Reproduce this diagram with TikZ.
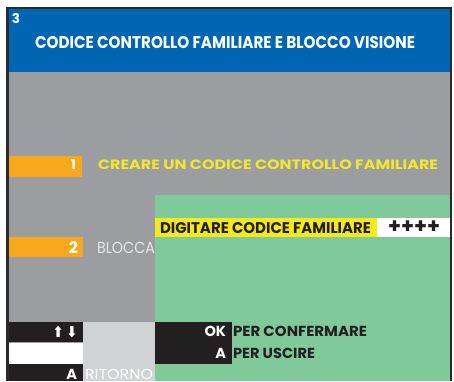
\documentclass[tikz,border=0pt]{standalone}
\usepackage{fontspec}
\usepackage{graphicx}
\setmainfont{Poppins}
\newfontfamily\symfont{DejaVu Sans}
\definecolor{framec}{HTML}{2B2A2C}
\definecolor{hdrblue}{HTML}{0066B3}
\definecolor{scrgrey}{HTML}{9C9DA1}
\definecolor{orangec}{HTML}{F8A81C}
\definecolor{greenc}{HTML}{7FC99B}
\definecolor{yellowbar}{HTML}{F4E91A}
\definecolor{yellowtxt}{HTML}{F3E72B}
\definecolor{darkc}{HTML}{231F20}
\definecolor{lightgrey}{HTML}{D1D2D4}
\definecolor{blocc}{HTML}{E6E7E9}
\newcommand{\fitw}[2]{\resizebox{#1}{\height}{#2}}
\newcommand{\fs}[1]{\fontsize{#1}{#1}\selectfont}
\begin{document}
\begin{tikzpicture}[x=1pt,y=-1pt,
  txt/.style={inner sep=0pt, outer sep=0pt},
  boldtxt/.style={txt, font=\bfseries}]
\useasboundingbox (0,0) rectangle (454,381);
\clip (0,0) rectangle (454,381);
\fill[white] (0,0) rectangle (454,381);
% frame and screen
\fill[framec] (6,7) rectangle (452,381);
\fill[scrgrey] (8.5,8.5) rectangle (450,381);
\fill[hdrblue] (8.5,8.5) rectangle (450,72);
% bars
\fill[orangec] (8.5,156) rectangle (82,177);
\fill[orangec] (8.5,237) rectangle (83,257);
\fill[greenc] (155,195) rectangle (450,381);
\fill[yellowbar] (155,218) rectangle (377,237);
\fill[white] (377,218) rectangle (450,237);
\fill[darkc] (8.5,322) rectangle (83,342);
\fill[white] (8.5,342.5) rectangle (83,364);
\fill[darkc] (8.5,364) rectangle (83,381);
\fill[lightgrey] (83,322) rectangle (155,381);
\fill[darkc] (155,322) rectangle (232,364);
% texts
\node[boldtxt, text=white, anchor=base west, font=\bfseries\fs{13.5}] (num) at (12,23.5) {3};
\node[boldtxt, text=white, anchor=base west, font=\bfseries\fs{17}] (title) at (35,48) {\fitw{380pt}{CODICE CONTROLLO FAMILIARE E BLOCCO VISIONE}};
\node[boldtxt, text=white, anchor=base east, font=\bfseries\fs{13.5}] (one) at (76,169.5) {1};
\node[boldtxt, text=yellowtxt, anchor=base west, font=\bfseries\fs{13.5}] (creare) at (98,169.5) {\fitw{340pt}{CREARE UN CODICE CONTROLLO FAMILIARE}};
\node[boldtxt, text=darkc, anchor=base west, font=\bfseries\fs{15.5}] (digit) at (160,233.3) {\fitw{211pt}{DIGITARE CODICE FAMILIARE}};
\node[txt, text=darkc, anchor=center, font=\bfseries\fs{21}] (plus) at (414,227.5) {\fitw{52pt}{++++}};
\node[boldtxt, text=white, anchor=base east, font=\bfseries\fs{16}] (two) at (78,253.3) {2};
\node[txt, text=blocc, anchor=base west, font=\fs{16}] (blocca) at (97,253.3) {\fitw{58pt}{BLOCCA}};
\node[txt, text=white, anchor=east, font=\symfont\bfseries\fs{15}] (arrows) at (77.5,332.5) {\fitw{25pt}{⬆\hspace{3pt}⬇}};
\node[boldtxt, text=white, anchor=base east, font=\bfseries\fs{14.5}] (ok) at (226,336.7) {OK};
\node[boldtxt, text=darkc, anchor=base west, font=\bfseries\fs{14.5}] (conf) at (233,336.7) {\fitw{134pt}{PER CONFERMARE}};
\node[boldtxt, text=white, anchor=base east, font=\bfseries\fs{14.5}] (akey) at (226,358) {A};
\node[boldtxt, text=darkc, anchor=base west, font=\bfseries\fs{14.5}] (usc) at (233,358) {\fitw{82pt}{PER USCIRE}};
\node[boldtxt, text=white, anchor=base east, font=\bfseries\fs{14.5}] (aback) at (77,379.5) {A};
\node[txt, text=white, anchor=base west, font=\fs{14.5}] (rit) at (85,379.5) {\fitw{68pt}{RITORNO}};
\end{tikzpicture}
\end{document}
